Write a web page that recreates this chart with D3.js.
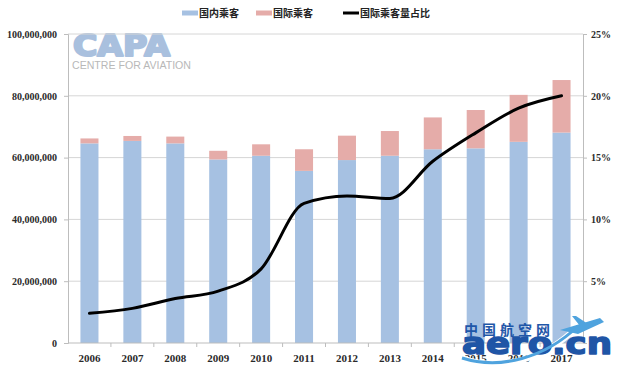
<!DOCTYPE html>
<html>
<head>
<meta charset="utf-8">
<script src="https://cdn.jsdelivr.net/npm/d3@7"></script>
<style>
  body { margin: 0; background: #fff; }
  svg { display: block; }
</style>
</head>
<body>
<div id="chart"></div>
<script>
// chart values (passengers)
var years = ["2006", "2007", "2008", "2009", "2010", "2011", "2012", "2013", "2014", "2015", "2016", "2017"];
var domestic = [64.6e6, 65.4e6, 64.6e6, 59.4e6, 60.6e6, 55.7e6, 59.2e6, 60.6e6, 62.7e6, 63.0e6, 65.1e6, 68.1e6];
var international = [1.6e6, 1.6e6, 2.2e6, 2.8e6, 3.7e6, 7.0e6, 7.9e6, 8.0e6, 10.3e6, 12.4e6, 15.2e6, 17.0e6];
var intlShare = [2.4, 2.8, 3.6, 4.2, 6.0, 11.3, 11.9, 11.7, 14.7, 17.0, 19.0, 20.0];
var leftTicks = [0, 20e6, 40e6, 60e6, 80e6, 100e6];
var rightTicks = [5, 10, 15, 20, 25];
var legendLabels = ["国内乘客", "国际乘客", "国际乘客量占比"];

var svgWidth = 618;
var svgHeight = 370;

var margin = { top: 34, right: 35, bottom: 27, left: 68 };
var width = svgWidth - margin.left - margin.right;
var height = svgHeight - margin.top - margin.bottom;

var blue = "#a6c1e2";
var pink = "#e5aca9";
var grid = "#d6d6d6";
var labelFont = "'Liberation Serif', 'DejaVu Serif', serif";

var svg = d3.select("#chart")
  .append("svg")
  .attr("width", svgWidth)
  .attr("height", svgHeight);

var chartGroup = svg.append("g")
  .attr("transform", `translate(${margin.left}, ${margin.top})`);

// scales
var xScale = d3.scaleBand()
  .domain(years)
  .range([0, width])
  .paddingInner(0.58)
  .paddingOuter(0.29);

var yScale = d3.scaleLinear()
  .domain([0, 100e6])
  .range([height, 0]);

var y2Scale = d3.scaleLinear()
  .domain([0, 25])
  .range([height, 0]);

// CAPA watermark behind the plot
var logo = chartGroup.append("g");
logo.append("text")
  .attr("x", 5)
  .attr("y", 22)
  .attr("font-family", "'DejaVu Sans', sans-serif")
  .attr("font-weight", "bold")
  .attr("font-size", 30)
  .attr("textLength", 97)
  .attr("lengthAdjust", "spacingAndGlyphs")
  .attr("fill", "#a9c0de")
  .attr("stroke", "#a9c0de")
  .attr("stroke-width", 2.2)
  .attr("stroke-linejoin", "round")
  .text("CAPA");
logo.append("text")
  .attr("x", 4)
  .attr("y", 35)
  .attr("font-family", "'Liberation Sans', sans-serif")
  .attr("font-size", 11)
  .attr("textLength", 119)
  .attr("lengthAdjust", "spacingAndGlyphs")
  .attr("fill", "#b8b8b8")
  .text("CENTRE FOR AVIATION");

// gridlines
chartGroup.append("g")
  .selectAll("line")
  .data(leftTicks.slice(1))
  .enter()
  .append("line")
  .attr("x1", 0)
  .attr("x2", width)
  .attr("y1", d => yScale(d))
  .attr("y2", d => yScale(d))
  .attr("stroke", grid)
  .attr("stroke-width", 1);

// left axis
var yAxis = d3.axisLeft(yScale)
  .tickValues(leftTicks)
  .tickSize(4)
  .tickPadding(7)
  .tickFormat(d3.format(",d"));

var leftAxis = chartGroup.append("g").call(yAxis);

// right axis
var y2Axis = d3.axisRight(y2Scale)
  .tickValues(rightTicks)
  .tickSize(4)
  .tickPadding(4)
  .tickFormat(d => d + "%");

var rightAxis = chartGroup.append("g")
  .attr("transform", `translate(${width}, 0)`)
  .call(y2Axis);

[leftAxis, rightAxis].forEach(function(ax) {
  ax.select(".domain").attr("stroke", "#bdbdbd");
  ax.selectAll(".tick line").attr("stroke", "#bdbdbd");
  ax.selectAll("text")
    .attr("font-family", labelFont)
    .attr("font-weight", "bold")
    .attr("font-size", 10)
    .attr("fill", "#2a2a2a");
});

// stacked bars
var barsGroup = chartGroup.append("g");

barsGroup.selectAll(".dom")
  .data(years)
  .enter()
  .append("rect")
  .attr("class", "dom")
  .attr("x", d => xScale(d))
  .attr("width", xScale.bandwidth())
  .attr("y", (d, i) => yScale(domestic[i]))
  .attr("height", (d, i) => height - yScale(domestic[i]))
  .attr("fill", blue);

barsGroup.selectAll(".intl")
  .data(years)
  .enter()
  .append("rect")
  .attr("class", "intl")
  .attr("x", d => xScale(d))
  .attr("width", xScale.bandwidth())
  .attr("y", (d, i) => yScale(domestic[i] + international[i]))
  .attr("height", (d, i) => yScale(domestic[i]) - yScale(domestic[i] + international[i]))
  .attr("fill", pink);

// bottom axis
chartGroup.append("line")
  .attr("x1", 0)
  .attr("x2", width)
  .attr("y1", height)
  .attr("y2", height)
  .attr("stroke", "#bdbdbd");

var step = xScale.step();
chartGroup.append("g")
  .selectAll("line")
  .data(years.slice(1))
  .enter()
  .append("line")
  .attr("x1", d => xScale(d) - step * xScale.paddingInner() / 2)
  .attr("x2", d => xScale(d) - step * xScale.paddingInner() / 2)
  .attr("y1", height)
  .attr("y2", height + 4)
  .attr("stroke", "#bdbdbd");

chartGroup.append("g")
  .selectAll("text")
  .data(years)
  .enter()
  .append("text")
  .attr("x", d => xScale(d) + xScale.bandwidth() / 2)
  .attr("y", height + 19)
  .attr("text-anchor", "middle")
  .attr("font-family", labelFont)
  .attr("font-weight", "bold")
  .attr("font-size", 11)
  .attr("fill", "#2a2a2a")
  .text(d => d);

// share line
var line = d3.line()
  .x((d, i) => xScale(years[i]) + xScale.bandwidth() / 2)
  .y(d => y2Scale(d))
  .curve(d3.curveMonotoneX);

chartGroup.append("path")
  .datum(intlShare)
  .attr("d", line)
  .attr("fill", "none")
  .attr("stroke", "#000")
  .attr("stroke-width", 3)
  .attr("stroke-linejoin", "round")
  .attr("stroke-linecap", "round");

// legend
var legend = svg.append("g").attr("transform", "translate(0, 13)");
var legendItems = [
  { x: 182, label: legendLabels[0], color: blue, kind: "bar" },
  { x: 256, label: legendLabels[1], color: pink, kind: "bar" },
  { x: 343, label: legendLabels[2], color: "#000", kind: "line" }
];
legendItems.forEach(function(item) {
  legend.append("line")
    .attr("x1", item.x)
    .attr("x2", item.x + 16)
    .attr("y1", 0)
    .attr("y2", 0)
    .attr("stroke", item.color)
    .attr("stroke-width", item.kind == "bar" ? 5 : 3);
  legend.append("text")
    .attr("x", item.x + 17)
    .attr("y", 4)
    .attr("font-family", "'Noto Sans CJK SC', sans-serif")
    .attr("font-weight", "bold")
    .attr("font-size", 10)
    .attr("fill", "#222")
    .text(item.label);
});

// aero.cn watermark, bottom right
var wm = svg.append("g");
wm.append("path")
  .attr("d", "M462,358 C500,372 545,360 578,326")
  .attr("fill", "none")
  .attr("stroke", "#fff")
  .attr("stroke-width", 6);
wm.append("text")
  .attr("x", 464)
  .attr("y", 335)
  .attr("font-family", "'Noto Sans CJK SC', sans-serif")
  .attr("font-weight", "bold")
  .attr("font-size", 14)
  .attr("letter-spacing", 4)
  .attr("fill", "#1f57a8")
  .text("中国航空网");
wm.append("text")
  .attr("x", 462)
  .attr("y", 354)
  .attr("font-family", "'DejaVu Sans', sans-serif")
  .attr("font-weight", "bold")
  .attr("font-size", 30)
  .attr("textLength", 150)
  .attr("lengthAdjust", "spacingAndGlyphs")
  .attr("fill", "#1f55a6")
  .attr("stroke", "#1f55a6")
  .attr("stroke-width", 1.5)
  .attr("stroke-linejoin", "round")
  .text("aero.cn");
wm.append("path")
  .attr("d", "M462,358 C500,370 545,358 578,326")
  .attr("fill", "none")
  .attr("stroke", "#4fa3de")
  .attr("stroke-width", 3);
wm.append("path")
  .attr("d", "M560,330 L600,318 L604,322 L578,334 Z M580,326 L572,316 L576,316 L588,324 Z")
  .attr("fill", "#4fa3de");
</script>
</body>
</html>
